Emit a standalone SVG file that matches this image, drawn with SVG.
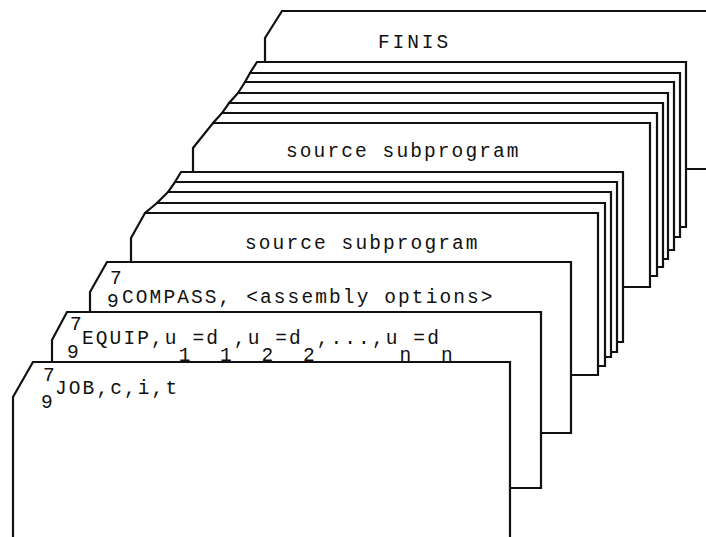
<svg xmlns="http://www.w3.org/2000/svg" width="706" height="537" viewBox="0 0 706 537">
<style>
.card{fill:#fff;stroke:#111;stroke-width:2.2;stroke-linejoin:miter}
.t{font-family:"Liberation Mono","DejaVu Sans Mono",monospace;font-size:19.5px;fill:#111;letter-spacing:2.1px}
</style>
<rect width="706" height="537" fill="#fff"/>
<g id="deck">
<g id="card-finis"><path class="card" d="M282,11 H720 V169 H265 V38 Z"/><text class="t" x="378" y="48" style="letter-spacing:2.9px">FINIS</text></g>
<g id="card-a1"><path class="card" d="M257,62 H686 V227 H250 V73 Z"/></g>
<g id="card-a2"><path class="card" d="M250,73 H680 V237 H245 V82 Z"/></g>
<g id="card-a3"><path class="card" d="M245,82 H674 V250 H238 V93 Z"/></g>
<g id="card-a4"><path class="card" d="M238,93 H668 V259 H229 V103 Z"/></g>
<g id="card-a5"><path class="card" d="M229,103 H663 V267 H222 V113 Z"/></g>
<g id="card-a6"><path class="card" d="M222,113 H657 V276 H213 V123 Z"/></g>
<g id="card-source-upper"><path class="card" d="M213,123 H650 V287 H193 V148 Z"/><text class="t" x="286" y="157">source subprogram</text></g>
<g id="card-b1"><path class="card" d="M181,172 H623 V342 H175 V182 Z"/></g>
<g id="card-b2"><path class="card" d="M175,182 H617 V352 H168 V192 Z"/></g>
<g id="card-b3"><path class="card" d="M168,192 H611 V357 H157 V203 Z"/></g>
<g id="card-b4"><path class="card" d="M157,203 H605 V366 H145 V213 Z"/></g>
<g id="card-source-lower"><path class="card" d="M145,213 H598 V375 H131 V238 Z"/><text class="t" x="245" y="249">source subprogram</text></g>
<g id="card-compass"><path class="card" d="M107,262 H571 V433 H90 V292 Z"/>
<text class="t" x="110" y="284">7</text><text class="t" x="107" y="307">9</text>
<text class="t" x="122" y="303">COMPASS, &lt;assembly options&gt;</text></g>
<g id="card-equip"><path class="card" d="M67,312 H541 V488 H52 V340 Z"/>
<text class="t" x="70" y="330">7</text><text class="t" x="67" y="358">9</text>
<text class="t" x="82" y="344">EQUIP,u<tspan dy="17">1</tspan><tspan dy="-17">=d</tspan><tspan dy="17">1</tspan><tspan dy="-17">,u</tspan><tspan dy="17">2</tspan><tspan dy="-17">=d</tspan><tspan dy="17">2</tspan><tspan dy="-17">,...,u</tspan><tspan dy="17">n</tspan><tspan dy="-17">=d</tspan><tspan dy="17">n</tspan></text></g>
<g id="card-job"><path class="card" d="M33,362 H510 V545 H13 V397 Z"/>
<text class="t" x="43" y="381">7</text><text class="t" x="41" y="408">9</text>
<text class="t" x="55" y="394">JOB,c,i,t</text></g>
</g>
<g id="connectors"/>
</svg>
